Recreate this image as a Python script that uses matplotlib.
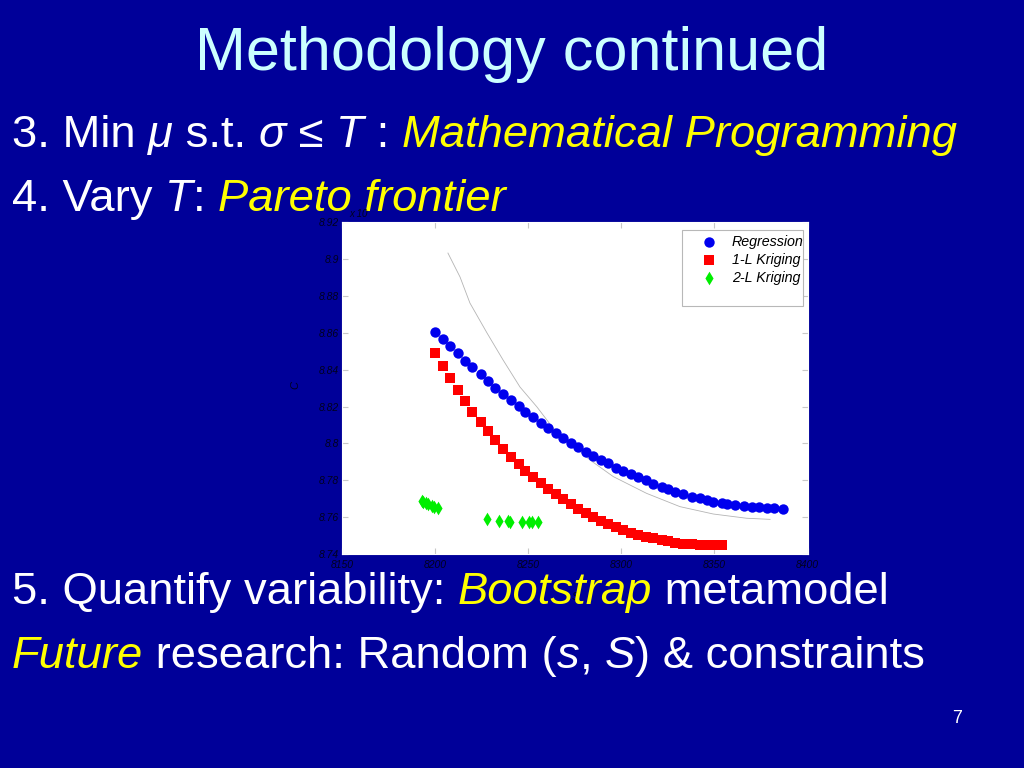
import matplotlib
matplotlib.use("Agg")
import matplotlib.pyplot as plt
from matplotlib.patches import Rectangle

plt.rcParams['font.family'] = ['Liberation Sans', 'DejaVu Sans']

reg_x = [8200, 8204.4, 8208, 8212.1, 8216, 8220, 8224.5, 8228.4, 8232.3, 8236.5,
         8240.6, 8245, 8248.4, 8252.6, 8256.7, 8260.8, 8265, 8268.8, 8273, 8277,
         8281, 8285, 8289, 8293, 8297, 8301, 8305, 8309, 8313, 8317,
         8322, 8325, 8329, 8333, 8338, 8342, 8346, 8349, 8354, 8357,
         8361, 8366, 8370, 8374, 8378, 8382, 8387]
reg_y = [8.8606, 8.8565, 8.8529, 8.8489, 8.8449, 8.8416, 8.8377, 8.8340, 8.8302, 8.8270,
         8.8236, 8.8203, 8.8171, 8.8142, 8.8113, 8.8082, 8.8055, 8.8032, 8.8005, 8.7981,
         8.7956, 8.7932, 8.7910, 8.7892, 8.7868, 8.7850, 8.7834, 8.7816, 8.7800, 8.7782,
         8.7765, 8.7751, 8.7736, 8.7724, 8.7711, 8.7702, 8.7693, 8.7684, 8.7675, 8.7671,
         8.7666, 8.7660, 8.7657, 8.7653, 8.7651, 8.7648, 8.7646]

k1_x = reg_x[:39]
k1_y = [8.8492, 8.8422, 8.8353, 8.8290, 8.8228, 8.8169, 8.8116, 8.8066, 8.8019, 8.7971,
        8.7928, 8.7887, 8.7852, 8.7816, 8.7784, 8.7753, 8.7724, 8.7697, 8.7670, 8.7644,
        8.7621, 8.7599, 8.7581, 8.7563, 8.7547, 8.7530, 8.7516, 8.7505, 8.7494, 8.7485,
        8.7476, 8.7469, 8.7461, 8.7456, 8.7453, 8.7450, 8.7449, 8.7449, 8.7449]

k2_x = [8192.8, 8193.7, 8195.1, 8196.3, 8198.2, 8199.6, 8201.4,
        8228, 8234.5, 8239, 8240.2, 8246.5, 8250.6, 8251.9, 8255.4]
k2_y = [8.7689, 8.7684, 8.7675, 8.7669, 8.7660, 8.7656, 8.7651,
        8.7590, 8.7581, 8.7581, 8.7575, 8.7572, 8.7572, 8.7575, 8.7572]

line_x = [8206.9, 8213.4, 8218.7, 8227.9, 8236.5, 8245.6, 8254.7, 8263.3,
          8283.2, 8295.7, 8313.6, 8331.5, 8349.4, 8367.3, 8379.9]
line_y = [8.9033, 8.8903, 8.8762, 8.8599, 8.8453, 8.8306, 8.8198, 8.8084,
          8.7910, 8.7820, 8.7729, 8.7657, 8.7617, 8.7594, 8.7588]

x_ticks = [8150, 8200, 8250, 8300, 8350, 8400]
y_ticks = [8.74, 8.76, 8.78, 8.8, 8.82, 8.84, 8.86, 8.88, 8.9, 8.92]

BG = '#000099'
WHITE = '#ffffff'
YEL = '#ffff00'
DARK = '#000000'

fig = plt.figure(figsize=(10.24, 7.68), dpi=100, facecolor=BG)
W, H = 1024, 768

ax = fig.add_axes([342 / W, 1 - 554 / H, 465.5 / W, 331.7 / H])
ax.set_facecolor('white')
ax.plot(line_x, line_y, color='#b4b4b4', lw=0.6, zorder=1)
ax.scatter(reg_x, reg_y, s=56, marker='o', color='#0000ee', lw=0, zorder=3, label='Regression')
ax.scatter(k1_x, k1_y, s=42, marker='s', color='#ff0000', lw=0, zorder=3, label='1-L Kriging')
ax.scatter(k2_x, k2_y, s=48, marker='d', color='#00ee00', lw=0, zorder=3, label='2-L Kriging')

ax.set_xlim(8150, 8400)
ax.set_ylim(8.74, 8.92)
ax.set_xticks(x_ticks)
ax.set_yticks(y_ticks)
ax.set_xticklabels([str(v) for v in x_ticks])
ax.set_yticklabels(['%g' % v for v in y_ticks])
ax.tick_params(direction='in', length=4, color='#c8c8c8', top=True, right=True,
               labelsize=7.5, labelcolor=DARK, pad=2)
ax.tick_params(axis='x', pad=4)
for lab in ax.get_xticklabels() + ax.get_yticklabels():
    lab.set_fontstyle('italic')
    lab.set_alpha(0.8)
for sp in ax.spines.values():
    sp.set_color('white')

ax.set_ylabel('C', fontsize=8, style='italic', color=DARK, alpha=0.8)
ax.yaxis.set_label_coords((300 - 342) / 465.5, (554 - 385) / 331.7)
ax.set_xlabel('S', fontsize=8, style='italic', color=DARK, alpha=0.8)
ax.xaxis.set_label_coords((575 - 342) / 465.5, (554 - 592) / 331.7)

ax.add_patch(Rectangle(((682 - 342) / 465.5, (554 - 306) / 331.7),
                       121 / 465.5, 76 / 331.7, transform=ax.transAxes,
                       facecolor='white', edgecolor='#b8b8b8', lw=0.8, zorder=4))
leg = ax.legend(loc='upper left', bbox_to_anchor=(0.773, 0.962), frameon=False,
                borderpad=0, borderaxespad=0, handlelength=1.0,
                handletextpad=1.1, labelspacing=0.28, prop={'style': 'italic', 'size': 10.3})
leg.set_zorder(5)

fig.text(349 / W, 1 - 217 / H, 'x 10', fontsize=7, style='italic', color=DARK, alpha=0.8, zorder=10)

# slide text
fig.text(512 / W, 1 - 70 / H, 'Methodology continued', fontsize=44, color='#ccffff',
         ha='center', va='baseline')

renderer = fig.canvas.get_renderer()


def advance(txt, size, style):
    a = fig.text(0, 0, txt + '|', fontsize=size, style=style)
    b = fig.text(0, 0, '|', fontsize=size, style=style)
    w = a.get_window_extent(renderer).width - b.get_window_extent(renderer).width
    a.remove()
    b.remove()
    return w


def write_line(x, y, parts, size=32.7):
    for txt, color, style in parts:
        fig.text(x / W, 1 - y / H, txt, fontsize=size, color=color, style=style,
                 va='baseline', zorder=6)
        x += advance(txt, size, style)


N, I = 'normal', 'italic'
write_line(12, 147, [('3. Min ', WHITE, N), ('\u03bc', WHITE, I), (' s.t. ', WHITE, N),
                     ('\u03c3', WHITE, I), (' \u2264 ', WHITE, N), ('T', WHITE, I),
                     (' : ', WHITE, N), ('Mathematical Programming', YEL, I)])
write_line(12, 211, [('4. Vary ', WHITE, N), ('T', WHITE, I), (': ', WHITE, N),
                     ('Pareto frontier', YEL, I)])
write_line(12, 604, [('5. Quantify variability: ', WHITE, N), ('Bootstrap', YEL, I),
                     (' metamodel', WHITE, N)])
write_line(12, 668, [('Future', YEL, I), (' research: Random (', WHITE, N), ('s', WHITE, I),
                     (', ', WHITE, N), ('S', WHITE, I), (') & constraints', WHITE, N)])
fig.text(957 / W, 1 - 723 / H, '7', fontsize=13, color=WHITE, ha='center', va='baseline')

fig.savefig('out.png', dpi=100, facecolor=BG)
